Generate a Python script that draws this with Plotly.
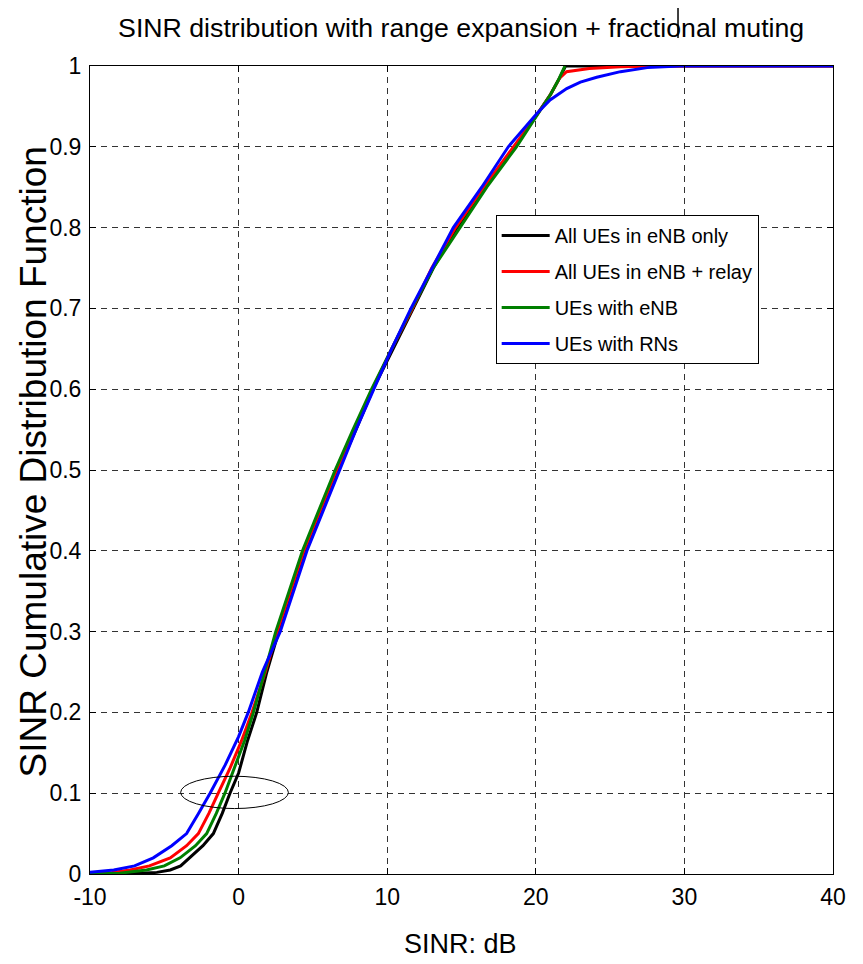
import plotly.graph_objects as go

# ---- data (SINR in dB, CDF value) ----
series_names = ["All UEs in eNB only", "All UEs in eNB + relay", "UEs with eNB", "UEs with RNs"]
series_colors = ["#000000", "#ff0000", "#007f00", "#0000ff"]

enb_only_x = [-10, -7, -5.5, -4.6, -3.9, -3.27, -2.4, -1.7, -1.1, -0.58, 0.0, 0.6, 1.22, 1.9, 2.7,
              3.6, 4.5, 5.6, 6.7, 7.9, 9.05, 10.4, 11.75, 13.1, 14.7, 16.6, 18.6, 20.1, 21.0, 21.6, 22.0, 40]
enb_only_y = [0, 0.0005, 0.002, 0.005, 0.01, 0.02, 0.035, 0.05, 0.075, 0.1, 0.125, 0.165, 0.2, 0.25, 0.3,
              0.35, 0.4, 0.45, 0.5, 0.55, 0.6, 0.65, 0.7, 0.75, 0.8, 0.85, 0.9, 0.94, 0.965, 0.985, 1.0, 1.0]

relay_x = [-10, -8.5, -7.3, -6.0, -4.6, -3.5, -2.71, -2.0, -1.37, -0.6, 0.2, 0.9, 1.8, 2.6,
           3.5, 4.4, 5.5, 6.6, 7.8, 9.0, 10.3, 11.7, 13.0, 14.6, 16.5, 18.5, 20.1, 21.0, 21.6,
           22.07, 23.6, 25.7, 28.0, 40]
relay_y = [0.001, 0.002, 0.005, 0.01, 0.02, 0.035, 0.05, 0.075, 0.1, 0.13, 0.165, 0.2, 0.25, 0.3,
           0.35, 0.4, 0.45, 0.5, 0.55, 0.6, 0.65, 0.7, 0.75, 0.8, 0.85, 0.9, 0.94, 0.965, 0.985,
           0.993, 0.997, 0.999, 1.0, 1.0]

ue_enb_x = [-10, -8.0, -6.2, -5.0, -3.94, -2.9, -2.15, -1.5, -0.92, -0.3, 0.4, 1.0, 1.75, 2.5,
            3.4, 4.3, 5.4, 6.5, 7.7, 8.95, 10.3, 11.65, 13.1, 14.9, 16.7, 18.7, 20.1, 21.0, 21.5, 21.96]
ue_enb_y = [0, 0.001, 0.005, 0.01, 0.02, 0.035, 0.05, 0.075, 0.1, 0.13, 0.165, 0.2, 0.25, 0.3,
            0.35, 0.4, 0.45, 0.5, 0.55, 0.6, 0.65, 0.7, 0.75, 0.8, 0.85, 0.9, 0.94, 0.965, 0.982, 1.0]

ue_rn_x = [-10, -9.0, -8.4, -7.0, -5.74, -4.5, -3.5, -2.7, -1.92, -0.9, 0.0, 0.65, 1.6, 2.8,
           3.7, 4.6, 5.7, 6.8, 7.9, 9.1, 10.3, 11.6, 13.0, 14.45, 16.36, 18.15, 20.06, 20.96,
           22.08, 23.0, 24.1, 25.7, 27.5, 29.7, 40]
ue_rn_y = [0.002, 0.004, 0.005, 0.01, 0.02, 0.035, 0.05, 0.075, 0.1, 0.135, 0.17, 0.2, 0.25, 0.3,
           0.35, 0.4, 0.45, 0.5, 0.55, 0.6, 0.65, 0.7, 0.75, 0.8, 0.85, 0.9, 0.941, 0.958,
           0.972, 0.98, 0.986, 0.993, 0.998, 1.0, 1.0]

x_ticks = [-10, 0, 10, 20, 30, 40]
x_tick_text = ["-10", "0", "10", "20", "30", "40"]
y_ticks = [0, 0.1, 0.2, 0.3, 0.4, 0.5, 0.6, 0.7, 0.8, 0.9, 1]
y_tick_text = ["0", "0.1", "0.2", "0.3", "0.4", "0.5", "0.6", "0.7", "0.8", "0.9", "1"]

title_text = "SINR distribution with range expansion + fractional muting"
x_title = "SINR: dB"
y_title = "SINR Cumulative Distribution Function"

FONT = "Liberation Sans, Arial, sans-serif"

fig = go.Figure()
all_x = [enb_only_x, relay_x, ue_enb_x, ue_rn_x]
all_y = [enb_only_y, relay_y, ue_enb_y, ue_rn_y]
for name, col, xs, ys in zip(series_names, series_colors, all_x, all_y):
    fig.add_trace(go.Scatter(x=xs, y=ys, mode="lines", name=name, legendgroup=name,
                             line=dict(color=col, width=3)))

axis_common = dict(showline=True, linecolor="black", linewidth=1, mirror="ticks",
                   ticks="inside", ticklen=6, tickcolor="black", automargin=False,
                   showgrid=True, gridcolor="#333333", gridwidth=1, griddash="6px,5px",
                   zeroline=False, tickfont=dict(family=FONT, size=23, color="black"))

fig.update_xaxes(range=[-10, 40], tickvals=x_ticks, ticktext=x_tick_text, **axis_common,
                 ticklabelstandoff=2)
fig.update_yaxes(range=[0, 1], tickvals=y_ticks, ticktext=y_tick_text, **axis_common,
                 ticklabelstandoff=3)

fig.add_annotation(text=y_title, xref="paper", yref="paper", x=-0.076, y=0.51,
                   textangle=-90, showarrow=False, xanchor="center", yanchor="middle",
                   font=dict(family=FONT, size=37, color="black"))
fig.add_annotation(text=x_title, xref="paper", yref="paper", x=0.498, y=-0.087,
                   showarrow=False, xanchor="center", yanchor="middle",
                   font=dict(family=FONT, size=27, color="black"))

# ellipse highlighting the 10% point
fig.add_shape(type="circle", xref="x", yref="y", x0=-3.9, x1=3.35, y0=0.081, y1=0.121,
              line=dict(color="black", width=1))
# stray vertical mark above the axes
fig.add_shape(type="line", xref="paper", yref="paper", x0=0.7914, x1=0.7914, y0=1.0347, y1=1.0817,
              line=dict(color="black", width=1.5))

fig.update_layout(
    width=847, height=956,
    margin=dict(l=82, r=22, t=58, b=90),
    paper_bgcolor="white", plot_bgcolor="white",
    title=dict(text=title_text, x=0.535, xanchor="center", y=1 - 20 / 956, yanchor="middle",
               font=dict(family=FONT, size=26.7, color="black")),
    legend=dict(x=0.546, y=0.8156, xanchor="left", yanchor="top",
                bordercolor="black", borderwidth=1, bgcolor="white",
                font=dict(family=FONT, size=20, color="black"),
                itemwidth=48, tracegroupgap=7),
    showlegend=True,
)

fig.write_html("out.html")
